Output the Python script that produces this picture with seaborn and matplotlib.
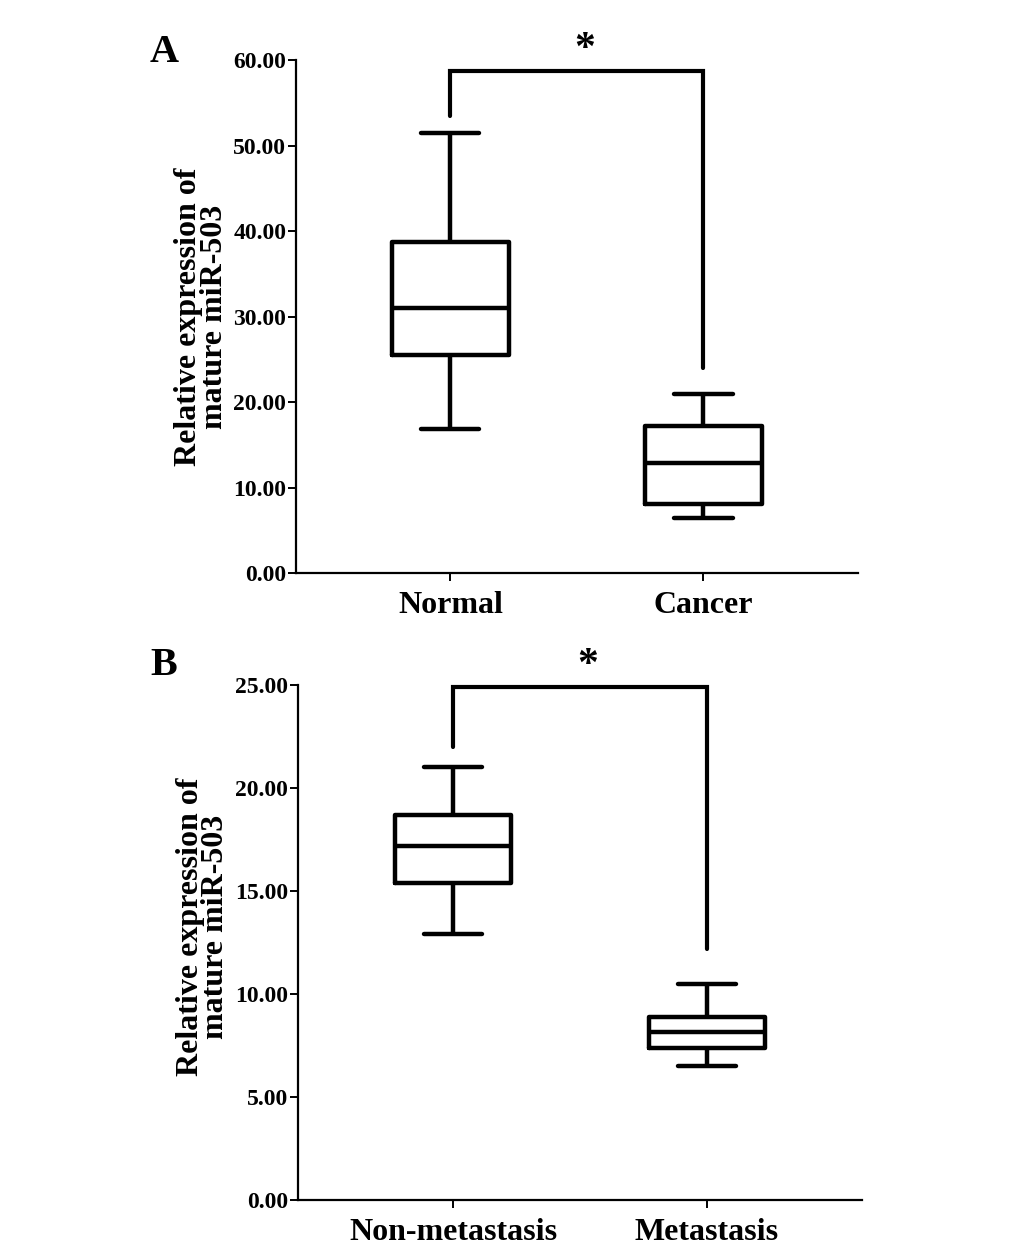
import pandas as pd
import seaborn as sns
import matplotlib.pyplot as plt
from matplotlib.ticker import FormatStrFormatter

# five-number summaries: min, Q1, median, Q3, max
groups_a = ['Normal', 'Cancer']
normal = [16.8, 25.5, 31.0, 38.7, 51.5]
cancer = [6.4, 8.1, 12.9, 17.2, 21.0]

groups_b = ['Non-metastasis', 'Metastasis']
nonmet = [12.9, 15.4, 17.2, 18.7, 21.0]
met = [6.5, 7.4, 8.15, 8.9, 10.5]

# significance brackets: top, left leg end, right leg end
bracket_a = [58.7, 53.5, 24.0]
bracket_b = [24.9, 22.0, 12.2]

ylabel = 'Relative expression of\nmature miR-503'

sns.set_style('ticks', {'axes.edgecolor': 'black', 'text.color': 'black',
                        'xtick.color': 'black', 'ytick.color': 'black',
                        'axes.labelcolor': 'black'})
plt.rcParams['font.family'] = ['Liberation Serif', 'DejaVu Serif']
plt.rcParams['font.weight'] = 'bold'
plt.rcParams['axes.labelweight'] = 'bold'

fig = plt.figure(figsize=(10.33, 12.6), dpi=100)
ax_a = fig.add_axes([0.2865, 0.5452, 0.544, 0.4071])
ax_b = fig.add_axes([0.2885, 0.0476, 0.546, 0.4087])


def panel(ax, names, v1, v2, ymax, step, br, label_y):
    df = pd.DataFrame({'group': [names[0]] * len(v1) + [names[1]] * len(v2),
                       'value': v1 + v2})
    sns.boxplot(data=df, x='group', y='value', order=names, whis=(0, 100),
                width=0.46, fill=False, color='black', linewidth=3.2, ax=ax)
    ax.set_xlim(-0.61, 1.61)
    ax.set_ylim(0, ymax)
    ax.set_yticks([i * step for i in range(int(ymax / step) + 1)])
    ax.yaxis.set_major_formatter(FormatStrFormatter('%.2f'))
    ax.set_xlabel('')
    ax.set_ylabel(ylabel, fontsize=23, linespacing=0.85)
    ax.yaxis.set_label_coords(-0.12, label_y)
    sns.despine(ax=ax)
    for s in ['left', 'bottom']:
        ax.spines[s].set_linewidth(1.6)
    ax.tick_params(axis='y', labelsize=17, length=6, width=1.4, pad=1)
    ax.tick_params(axis='x', labelsize=23, length=6, width=1.4, pad=7)
    top, left_end, right_end = br
    ax.plot([0, 0, 1, 1], [left_end, top, top, right_end], color='black',
            lw=3, clip_on=False, solid_joinstyle='miter')
    ax.text(0.53, top + ymax * 0.004, '*', ha='center', va='bottom',
            fontsize=30, clip_on=False)


panel(ax_a, groups_a, normal, cancer, 60, 10, bracket_a, 0.5)
panel(ax_b, groups_b, nonmet, met, 25, 5, bracket_b, 0.53)

fig.text(150 / 1033, 1 - 62 / 1260, 'A', fontsize=29, ha='left', va='baseline')
fig.text(150 / 1033, 1 - 675 / 1260, 'B', fontsize=29, ha='left', va='baseline')

fig.savefig('out.png', dpi=100, facecolor='white')
